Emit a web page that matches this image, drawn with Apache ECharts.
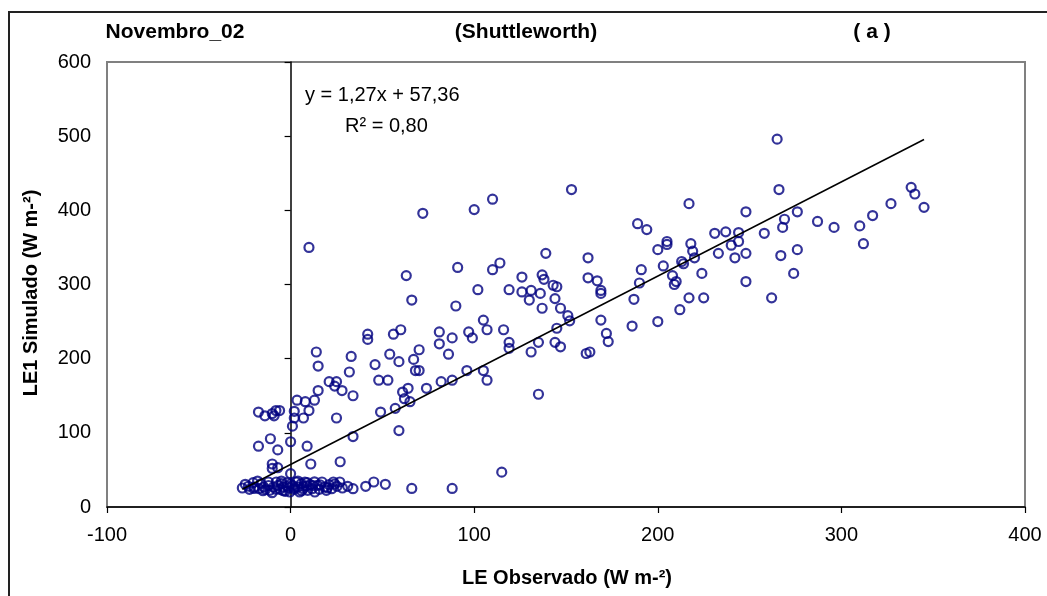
<!DOCTYPE html>
<html>
<head>
<meta charset="utf-8">
<script src="https://cdn.jsdelivr.net/npm/echarts@6/dist/echarts.min.js"></script>
<style>
html,body{margin:0;padding:0;background:#fff;}
#chart{width:1047px;height:596px;}
</style>
</head>
<body>
<div id="chart"></div>
<script>
// LE observado (x) values
const leObservado = [
  10,72,100,110,63,91,110,114,139,126,137,138,143,102,119,
  66,90,126,130,131,136,137,144,147,105,107,116,119,119,131,135,144,145,147,135,115,88,66,
  105,107,96,97,99,88,81,81,86,88,82,74,60,56,54,59,70,67,68,70,64,61,62,65,57,59,49,48,53,46,
  42,42,33,32,34,34,27,25,24,28,21,25,14,15,15,13,10,7,8,3.5,2,2,1,0,9,11,
  -17.5,-14,-10,-8,-6,-9,-17.5,-11,-7,-10,-10,-7,0,
  265,153,266,217,338,340,345,327,317,310,312,296,287,276,269,268,276,267,274,258,248,248,248,
  244,244,242,240,237,231,233,224,218,219,220,213,214,208,210,209,203,200,205,205,189,194,191,190,
  162,162,167,145,169,
  151,152,161,163,169,169,172,173,186,187,200,212,217,225,262,
  -26.3,-24.7,-22.4,-20.4,-19.8,-17.1,-16,-14.6,-13.6,-12.1,-11.3,-10.1,-9.3,-7.8,-6.8,-5.8,-4.9,-3.9,
  -2.9,-1.9,-1,-0.4,1,1.9,2.9,3.9,4.9,5.8,6.8,7.8,8.8,9.3,10.7,11.7,13.2,14.6,15.6,17.1,18.5,19.5,
  21,22.4,23.3,25.3,26.8,28.2,31.1,34,40.9,45.3,51.6,
  -23,-18,-15,-12,-8,-5,-2,0,2,4,6,9,12,16,20,24,-20,-4,7,13
];
// LE1 simulado (y) values
const le1Simulado = [
  350,396,401,415,312,323,320,329,342,310,313,307,299,293,293,
  279,271,290,279,292,288,268,281,268,252,239,239,222,214,209,222,222,241,216,152,47,25,25,
  184,171,184,236,228,228,236,220,206,171,169,160,239,233,206,196,212,199,184,184,160,155,146,142,133,103,128,171,171,192,
  233,226,203,182,150,95,61,169,163,157,169,120,209,190,157,144,130,120,142,144,129,120,109,88,82,58,
  128,123,126,130,130,123,82,92,77,58,52,53,45,
  496,428,428,409,431,422,404,409,393,379,355,377,385,398,388,377,347,339,315,369,398,342,304,
  370,358,336,353,371,369,342,315,355,345,336,331,328,312,304,300,325,347,358,354,382,374,320,302,
  336,309,305,297,292,
  258,251,207,209,288,252,234,223,244,280,250,266,282,282,282,
  25.6,30.6,23.8,32.8,27,24.7,31.5,27,23.8,33.7,22.5,19.3,27,33.7,29.2,23.8,31.5,27,
  21.1,32.8,25.6,20.2,29.2,23.8,33.7,27,20.2,31.5,24.7,33.7,28.3,22.5,30.1,24.7,20.2,29.2,23.8,33.7,27,22.5,
  30.1,24.7,33.7,27.9,33.7,25.6,27.9,24.7,27.9,33.7,30.6,
  28,35,22,29,24,35,28,31,26,35,22,33,29,30,26,31,25,22,28,34
];
// trend line coefficients (y = a x + b)
const trendSlope = 1.27;
const trendIntercept = 57.36;
const xTicks = [-100, 0, 100, 200, 300, 400];
const yTicks = [0, 100, 200, 300, 400, 500, 600];

const FONT = 'Liberation Sans, Arial, sans-serif';
const points = leObservado.map((x, i) => [x, le1Simulado[i]]);
const xMinObs = Math.min.apply(null, leObservado);
const xMaxObs = Math.max.apply(null, leObservado);
const trend = [[xMinObs, trendSlope * xMinObs + trendIntercept], [xMaxObs, trendSlope * xMaxObs + trendIntercept]];

const chart = echarts.init(document.getElementById('chart'), null, {renderer: 'canvas'});
chart.setOption({
  animation: false,
  backgroundColor: '#fff',
  grid: {left: 107, right: 22, top: 62, bottom: 89, show: true, borderColor: '#808080', borderWidth: 2, backgroundColor: 'transparent'},
  xAxis: {
    type: 'value', min: xTicks[0], max: xTicks[xTicks.length - 1], interval: 100,
    position: 'bottom',
    axisLine: {show: true, onZero: false, lineStyle: {color: '#000', width: 1.5}},
    axisTick: {show: true, length: 6, lineStyle: {color: '#000', width: 1.2}},
    axisLabel: {fontSize: 20, color: '#000', fontFamily: FONT, margin: 18},
    splitLine: {show: false}
  },
  yAxis: [{
    type: 'value', min: yTicks[0], max: yTicks[yTicks.length - 1], interval: 100,
    position: 'left',
    axisLine: {show: false, onZero: false},
    axisTick: {show: false},
    axisLabel: {fontSize: 20, color: '#000', fontFamily: FONT, margin: 16},
    splitLine: {show: false}
  }, {
    type: 'value', min: yTicks[0], max: yTicks[yTicks.length - 1], interval: 100,
    position: 'left',
    axisLine: {show: true, onZero: true, lineStyle: {color: '#000', width: 1.5}},
    axisTick: {show: true, length: 6, lineStyle: {color: '#000', width: 1.2}},
    axisLabel: {show: false},
    splitLine: {show: false}
  }],
  graphic: [
    {type: 'rect', shape: {x: 9, y: 12, width: 1300, height: 900}, style: {fill: 'none', stroke: '#222', lineWidth: 2}, silent: true},
    {type: 'text', x: 175, y: 32, style: {text: 'Novembro_02', font: 'bold 21px ' + FONT, fill: '#000', align: 'center', verticalAlign: 'middle'}},
    {type: 'text', x: 526, y: 32, style: {text: '(Shuttleworth)', font: 'bold 21px ' + FONT, fill: '#000', align: 'center', verticalAlign: 'middle'}},
    {type: 'text', x: 872, y: 32, style: {text: '( a )', font: 'bold 21px ' + FONT, fill: '#000', align: 'center', verticalAlign: 'middle'}},
    {type: 'text', x: 305, y: 95, style: {text: 'y = 1,27x + 57,36', font: '20px ' + FONT, fill: '#000', align: 'left', verticalAlign: 'middle'}},
    {type: 'text', x: 345, y: 126, style: {text: 'R² = 0,80', font: '20px ' + FONT, fill: '#000', align: 'left', verticalAlign: 'middle'}},
    {type: 'text', x: 567, y: 578, style: {text: 'LE Observado (W m-²)', font: 'bold 20px ' + FONT, fill: '#000', align: 'center', verticalAlign: 'middle'}},
    {type: 'text', x: 31, y: 293, rotation: Math.PI / 2, style: {text: 'LE1 Simulado (W m-²)', font: 'bold 20px ' + FONT, fill: '#000', align: 'center', verticalAlign: 'middle'}}
  ],
  series: [{
    type: 'scatter',
    yAxisIndex: 0,
    data: points,
    symbol: 'circle',
    symbolSize: 9,
    itemStyle: {color: 'rgba(0,0,0,0)', borderColor: '#000080', borderWidth: 2.2},
    emphasis: {disabled: true}
  }, {
    type: 'line',
    yAxisIndex: 0,
    data: trend,
    symbol: 'none',
    lineStyle: {color: '#000', width: 1.5},
    emphasis: {disabled: true},
    z: 3
  }]
});
</script>
</body>
</html>
